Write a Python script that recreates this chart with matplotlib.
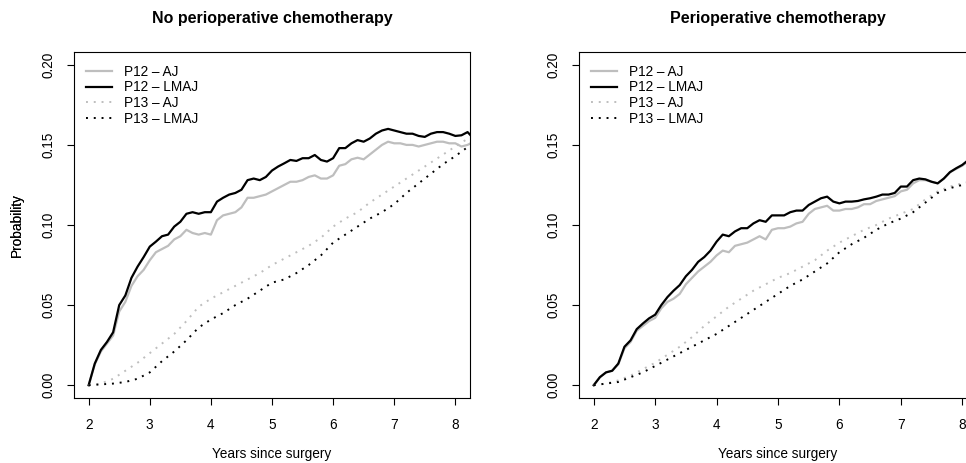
"""
plot.py
landmark Aalen-Johansen vs plain Aalen-Johansen transition probabilities,
two panels: without / with perioperative chemotherapy.
values read off the reference figure.
"""

import matplotlib
matplotlib.use("Agg")
import matplotlib.pyplot as plt
import numpy as np

plt.rcParams["font.family"] = ["Liberation Sans", "DejaVu Sans"]

GRAY = "#BEBEBE"

# ---- data -------------------------------------------------------------------
# solid curves (P12) on a 0.1-year grid, 2.0 .. 8.2 plus the edge 8.25
t_fine = [2.0, 2.1, 2.2, 2.3, 2.4, 2.5, 2.6, 2.7, 2.8, 2.9,
          3.0, 3.1, 3.2, 3.3, 3.4, 3.5, 3.6, 3.7, 3.8, 3.9,
          4.0, 4.1, 4.2, 4.3, 4.4, 4.5, 4.6, 4.7, 4.8, 4.9,
          5.0, 5.1, 5.2, 5.3, 5.4, 5.5, 5.6, 5.7, 5.8, 5.9,
          6.0, 6.1, 6.2, 6.3, 6.4, 6.5, 6.6, 6.7, 6.8, 6.9,
          7.0, 7.1, 7.2, 7.3, 7.4, 7.5, 7.6, 7.7, 7.8, 7.9,
          8.0, 8.1, 8.2, 8.25]

# no perioperative chemotherapy
no_p12_lmaj = [0.000, 0.0135, 0.022, 0.027, 0.033, 0.050, 0.056, 0.067, 0.074, 0.080,
               0.0865, 0.0896, 0.093, 0.094, 0.099, 0.102, 0.107, 0.108, 0.107, 0.108,
               0.108, 0.1146, 0.117, 0.119, 0.120, 0.122, 0.128, 0.129, 0.128, 0.130,
               0.134, 0.1365, 0.1385, 0.1406, 0.140, 0.1417, 0.1417, 0.1437, 0.1406, 0.1396,
               0.1417, 0.148, 0.148, 0.151, 0.153, 0.152, 0.154, 0.157, 0.159, 0.160,
               0.159, 0.158, 0.157, 0.157, 0.1556, 0.155, 0.157, 0.158, 0.158, 0.157,
               0.1556, 0.156, 0.158, 0.156]
no_p12_aj = [0.000, 0.013, 0.021, 0.026, 0.031, 0.046, 0.052, 0.062, 0.068, 0.072,
             0.078, 0.083, 0.085, 0.087, 0.091, 0.093, 0.097, 0.095, 0.094, 0.095,
             0.094, 0.103, 0.106, 0.107, 0.108, 0.111, 0.117, 0.117, 0.118, 0.119,
             0.121, 0.123, 0.125, 0.127, 0.127, 0.128, 0.130, 0.131, 0.129, 0.129,
             0.131, 0.137, 0.138, 0.141, 0.142, 0.141, 0.144, 0.147, 0.150, 0.152,
             0.151, 0.151, 0.150, 0.150, 0.149, 0.150, 0.151, 0.152, 0.152, 0.151,
             0.151, 0.149, 0.150, 0.151]

# perioperative chemotherapy
pc_p12_lmaj = [0.000, 0.005, 0.008, 0.009, 0.0135, 0.024, 0.028, 0.035, 0.0385, 0.0417,
               0.044, 0.050, 0.055, 0.059, 0.0625, 0.068, 0.072, 0.077, 0.080, 0.084,
               0.0896, 0.094, 0.093, 0.096, 0.098, 0.098, 0.101, 0.103, 0.102, 0.106,
               0.106, 0.106, 0.108, 0.109, 0.109, 0.1125, 0.1146, 0.1167, 0.1177, 0.1146,
               0.1135, 0.1146, 0.1146, 0.115, 0.116, 0.1167, 0.1177, 0.119, 0.119, 0.120,
               0.124, 0.124, 0.128, 0.129, 0.1285, 0.127, 0.126, 0.129, 0.133, 0.1354,
               0.1375, 0.1406, 0.142, 0.1425]
pc_p12_aj = [0.000, 0.005, 0.008, 0.009, 0.013, 0.023, 0.027, 0.034, 0.037, 0.040,
             0.042, 0.048, 0.052, 0.054, 0.057, 0.063, 0.067, 0.071, 0.074, 0.077,
             0.081, 0.084, 0.083, 0.087, 0.088, 0.089, 0.091, 0.093, 0.091, 0.097,
             0.098, 0.098, 0.099, 0.101, 0.102, 0.107, 0.110, 0.111, 0.112, 0.109,
             0.109, 0.110, 0.110, 0.111, 0.113, 0.113, 0.115, 0.116, 0.117, 0.118,
             0.121, 0.122, 0.126, 0.128, 0.128, 0.127, 0.126, 0.129, 0.133, 0.135,
             0.137, 0.140, 0.1415, 0.142]

# dotted curves (P13) on a 0.2-year grid
t_coarse = [2.0, 2.2, 2.4, 2.6, 2.8, 3.0, 3.2, 3.4, 3.6, 3.8,
            4.0, 4.2, 4.4, 4.6, 4.8, 5.0, 5.2, 5.4, 5.6, 5.8,
            6.0, 6.2, 6.4, 6.6, 6.8, 7.0, 7.2, 7.4, 7.6, 7.8,
            8.0, 8.25]

no_p13_aj = [0.000, 0.001, 0.004, 0.009, 0.014, 0.020, 0.026, 0.032, 0.040, 0.049,
             0.054, 0.058, 0.062, 0.066, 0.070, 0.075, 0.079, 0.083, 0.087, 0.092,
             0.099, 0.104, 0.108, 0.114, 0.119, 0.124, 0.129, 0.134, 0.139, 0.144,
             0.149, 0.155]
no_p13_lmaj = [0.000, 0.0005, 0.001, 0.002, 0.004, 0.008, 0.015, 0.021, 0.028, 0.036,
               0.041, 0.045, 0.050, 0.054, 0.059, 0.064, 0.066, 0.070, 0.075, 0.081,
               0.089, 0.094, 0.099, 0.104, 0.108, 0.113, 0.120, 0.126, 0.132, 0.138,
               0.143, 0.150]
pc_p13_aj = [0.000, 0.001, 0.003, 0.006, 0.010, 0.014, 0.019, 0.024, 0.030, 0.037,
             0.043, 0.049, 0.054, 0.059, 0.063, 0.067, 0.070, 0.074, 0.078, 0.084,
             0.089, 0.093, 0.097, 0.100, 0.104, 0.107, 0.110, 0.116, 0.121, 0.124,
             0.126, 0.128]
pc_p13_lmaj = [0.000, 0.001, 0.002, 0.005, 0.008, 0.012, 0.016, 0.020, 0.024, 0.028,
               0.032, 0.037, 0.042, 0.047, 0.052, 0.057, 0.062, 0.066, 0.071, 0.076,
               0.083, 0.088, 0.092, 0.097, 0.101, 0.104, 0.108, 0.114, 0.120, 0.123,
               0.125, 0.127]

titles = ["No perioperative chemotherapy", "Perioperative chemotherapy"]
panels = [(no_p12_aj, no_p12_lmaj, no_p13_aj, no_p13_lmaj),
          (pc_p12_aj, pc_p12_lmaj, pc_p13_aj, pc_p13_lmaj)]
legend_labels = ["P12 \u2013 AJ", "P12 \u2013 LMAJ", "P13 \u2013 AJ", "P13 \u2013 LMAJ"]

xticks = [2, 3, 4, 5, 6, 7, 8]
yticks = [0.00, 0.05, 0.10, 0.15, 0.20]

# ---- figure -----------------------------------------------------------------
W, H = 966, 463
fig = plt.figure(figsize=(W / 100, H / 100), dpi=100)

# pixel boxes (left, top, right, bottom) of the two plot regions
boxes = [(74, 52, 470, 398), (579, 52, 977, 398)]
DOT = (0, (1, 3))
FS = 9.8

for box, title, series in zip(boxes, titles, panels):
    l, t, r, b = box
    ax = fig.add_axes([l / W, 1 - b / H, (r - l) / W, (b - t) / H])
    p12_aj, p12_lmaj, p13_aj, p13_lmaj = series

    ax.plot(t_fine, p12_aj, color=GRAY, lw=1.6, label=legend_labels[0])
    ax.plot(t_fine, p12_lmaj, color="black", lw=1.6, label=legend_labels[1])
    ax.plot(t_coarse, p13_aj, color=GRAY, lw=1.4, ls=DOT, label=legend_labels[2])
    ax.plot(t_coarse, p13_lmaj, color="black", lw=1.4, ls=DOT, label=legend_labels[3])

    ax.set_xlim(1.76, 8.24)
    ax.set_ylim(-0.008, 0.208)
    ax.set_xticks(xticks)
    ax.set_xticklabels([str(v) for v in xticks])
    ax.set_yticks(yticks)
    ax.set_yticklabels([f"{v:.2f}" for v in yticks], rotation=90, va="center")
    ax.tick_params(direction="out", length=5, width=0.8, labelsize=FS)
    ax.tick_params(axis="x", pad=9.5)
    ax.tick_params(axis="y", pad=8)
    for s in ax.spines.values():
        s.set_linewidth(0.8)

    ax.set_xlabel("Years since surgery", fontsize=FS)
    ax.xaxis.set_label_coords(0.5, -(454 - b) / (b - t))
    ax.xaxis.label.set_va("center")
    ax.set_ylabel("Probability", fontsize=FS)
    ax.yaxis.set_label_coords(-(l - 17) / (r - l), 0.5)
    ax.yaxis.label.set_va("center")

    ax.text(0.5, 1 + (t - 19) / (b - t), title, transform=ax.transAxes,
            ha="center", va="center", fontsize=11.5, fontweight="bold")

    ax.legend(loc="upper left", frameon=False, fontsize=FS,
              bbox_to_anchor=(9 / (r - l), 1 - 10 / (b - t)),
              handlelength=1.9, handletextpad=0.88, labelspacing=0.12,
              borderpad=0.2, borderaxespad=0.0)

fig.savefig("out.png", dpi=100)
